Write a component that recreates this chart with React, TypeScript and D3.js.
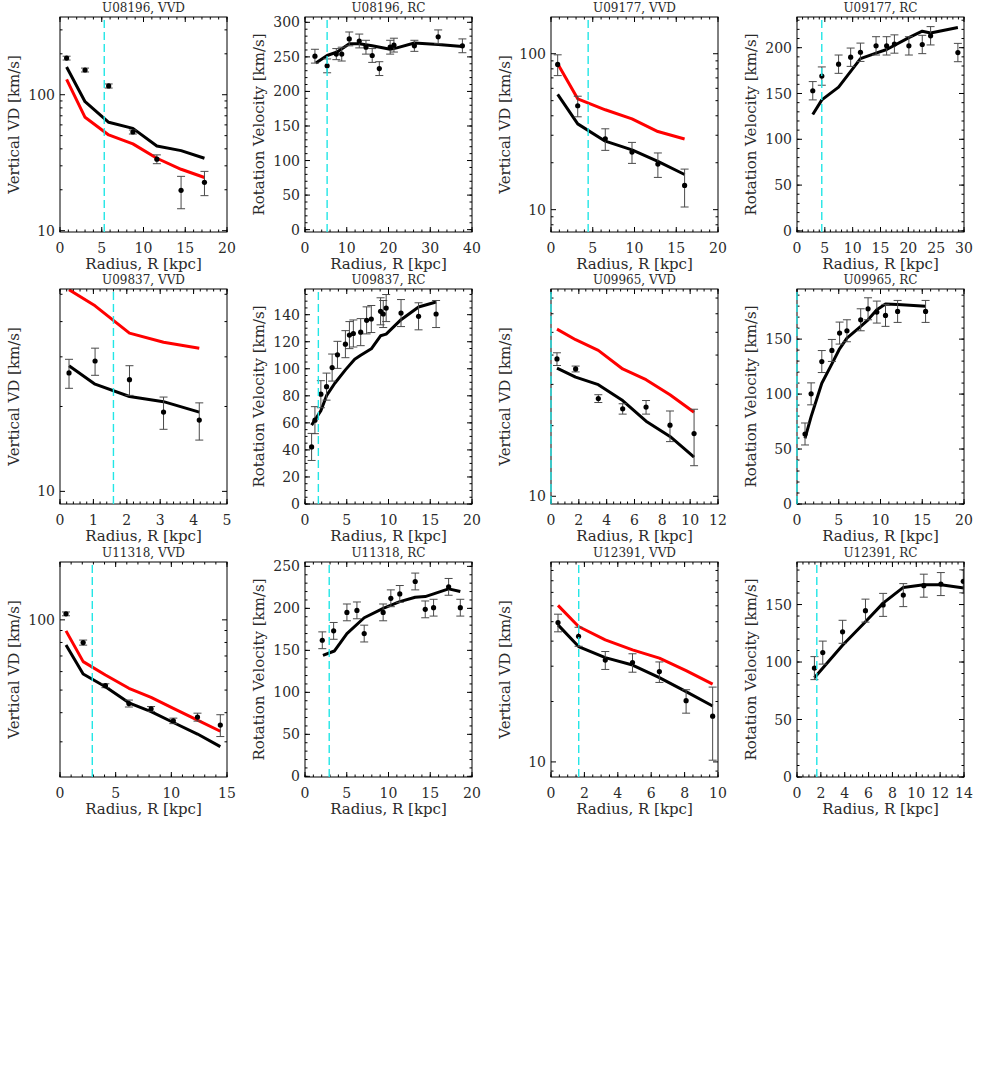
import * as d3 from 'd3'

// panel geometry (box left / top per column and row)
const W = 167
const H = 215
const colX = [60, 305, 551, 797]
const rowY = [17, 289, 562]

// ---------------- U08196 ----------------
const u08196VvdR = [0.79, 3.0, 5.83, 8.73, 11.6, 14.5, 17.3]
const u08196VvdObs = [186, 152, 116, 53.2, 33.6, 19.8, 22.7]
const u08196VvdErr = [6, 5, 4, 1.8, 2.5, 5.3, 4.6]
const u08196VvdBlack = [160, 88.9, 62.7, 56.6, 42.0, 38.8, 34.1]
const u08196VvdRed = [129.5, 68.2, 50.6, 43.5, 34.1, 28.3, 24.6]
const u08196VvdY = [9.78, 373]

const u08196RcR = [2.38, 5.3, 7.5, 8.8, 10.6, 13.0, 14.6, 16.1, 17.8, 20.4, 21.3, 26.2, 31.9, 37.7]
const u08196RcObs = [251, 237, 254, 254, 276, 273, 264, 252, 233, 264, 267, 266, 279, 266]
const u08196RcErr = [10, 10, 8, 10, 10, 10, 10, 10, 10, 10, 10, 8, 10, 10]
const u08196RcModelR = [2.6, 5.3, 7.7, 10.6, 13.0, 16.1, 20.4, 22.0, 26.2, 31.9, 37.7]
const u08196RcModel = [241, 252, 257, 269, 269, 266, 261, 263, 270, 268, 265]
const u08196RcY = [-3.4, 307.7]
const u08196Cut = 5.3

// ---------------- U09177 ----------------
const u09177VvdR = [0.8, 3.2, 6.5, 9.7, 12.8, 16.0]
const u09177VvdObs = [85.4, 46.4, 28.5, 23.4, 19.6, 14.3]
const u09177VvdErr = [13, 7, 4.5, 3.6, 3.5, 3.9]
const u09177VvdBlack = [54.8, 35.5, 27.5, 24.2, 20.4, 16.8]
const u09177VvdRed = [86.3, 51.4, 43.7, 38.2, 31.7, 28.4]
const u09177VvdY = [7.19, 172]

const u09177RcR = [2.83, 4.46, 7.47, 9.64, 11.4, 14.2, 16.1, 17.5, 20.1, 22.5, 24.0, 28.9]
const u09177RcObs = [153, 169, 182, 189.6, 195, 202, 202, 204, 202, 203.5, 213, 194.7]
const u09177RcErr = [10, 10, 10, 10, 10, 10, 10, 10, 10, 10, 10, 10]
const u09177RcModelR = [2.83, 4.46, 7.47, 11.4, 14.2, 16.1, 20.1, 22.5, 24.0, 28.9]
const u09177RcModel = [127, 143, 157, 188, 194, 198, 211, 218, 216, 222]
const u09177RcY = [-1.2, 233.5]
const u09177Cut = 4.45

// ---------------- U09837 ----------------
const u09837VvdR = [0.27, 1.05, 2.08, 3.1, 4.17]
const u09837VvdObs = [26.3, 29.0, 24.9, 19.1, 17.9]
const u09837VvdErr = [3.1, 3.2, 3.0, 2.5, 2.7]
const u09837VvdBlack = [27.9, 24.0, 21.7, 20.8, 19.1]
const u09837VvdRed = [51.9, 45.5, 36.4, 33.8, 32.2]
const u09837VvdY = [9.02, 52.2]

const u09837RcR = [0.79, 1.19, 1.9, 2.58, 3.25, 3.89, 4.84, 5.32, 5.79, 6.67, 7.38, 7.94, 9.05, 9.37, 9.72, 11.5, 13.6, 15.7]
const u09837RcObs = [42.2, 62, 81.2, 86.8, 100.9, 110.3, 118.2, 124.9, 126.1, 127.1, 135.8, 136.8, 142.5, 140.5, 144.9, 141.2, 138.8, 140.5]
const u09837RcErr = [10, 10, 10, 10, 10, 10, 10, 10, 10, 10, 10, 10, 10, 10, 10, 10, 10, 10]
const u09837RcModelR = [0.79, 1.9, 2.58, 3.57, 4.84, 5.95, 6.67, 7.94, 9.05, 9.72, 11.5, 13.6, 15.7]
const u09837RcModel = [58.3, 69.0, 80.1, 89.3, 99.2, 107.1, 110.0, 114.8, 124.4, 125.6, 136.3, 145.7, 149.4]
const u09837RcY = [0, 159]
const u09837Cut = 1.6

// ---------------- U09965 ----------------
const u09965VvdR = [0.43, 1.77, 3.4, 5.15, 6.83, 8.55, 10.28]
const u09965VvdObs = [38.5, 34.9, 26.1, 23.6, 24.0, 20.1, 18.5]
const u09965VvdErr = [2.4, 1, 1, 1.2, 1.6, 3, 5]
const u09965VvdBlack = [35.2, 32.2, 29.9, 25.6, 20.9, 18.0, 14.7]
const u09965VvdRed = [51.6, 46.5, 41.9, 34.9, 31.4, 27.1, 22.8]
const u09965VvdY = [9.27, 76.5]

const u09965RcR = [0.96, 1.69, 2.97, 4.18, 5.1, 5.98, 7.63, 8.51, 9.56, 10.6, 12.05, 15.4]
const u09965RcObs = [63.7, 100.2, 129.6, 139.7, 155.5, 157.6, 167.6, 177.6, 174.6, 171.6, 175.2, 175.2]
const u09965RcErr = [10, 10, 10, 10, 10, 10, 10, 10, 10, 10, 10, 10]
const u09965RcModelR = [0.96, 1.69, 2.97, 4.18, 5.1, 5.98, 7.63, 8.51, 9.56, 10.6, 12.05, 15.4]
const u09965RcModel = [59.7, 79.5, 109.9, 127.5, 141.2, 150.9, 161.6, 167.6, 176.7, 181.9, 181.6, 179.8]
const u09965RcY = [0, 195.6]
const u09965Cut = 0

// ---------------- U11318 ----------------
const u11318VvdR = [0.54, 2.08, 4.08, 6.19, 8.18, 10.18, 12.35, 14.4]
const u11318VvdObs = [106.1, 79.9, 52.2, 43.8, 41.5, 36.9, 38.3, 35.4]
const u11318VvdErr = [2, 2, 1, 1.5, 1, 1, 1.5, 3.8]
const u11318VvdBlack = [78.1, 58.6, 51.7, 44.1, 40.4, 36.3, 32.4, 28.6]
const u11318VvdRed = [89.7, 66.2, 58.0, 50.9, 46.5, 41.7, 37.2, 33.3]
const u11318VvdY = [21.2, 177]

const u11318RcR = [2.07, 3.43, 5.02, 6.22, 7.09, 9.36, 10.28, 11.35, 13.2, 14.4, 15.4, 17.2, 18.6]
const u11318RcObs = [162, 173.2, 195.2, 197.6, 170, 195.2, 212, 217.2, 232, 198.8, 200.8, 225.6, 200.8]
const u11318RcErr = [10, 10, 10, 10, 10, 10, 10, 10, 10, 10, 10, 10, 10]
const u11318RcModelR = [2.15, 3.51, 5.02, 7.09, 9.36, 11.35, 13.2, 14.4, 15.4, 17.2, 18.6]
const u11318RcModel = [144, 149.2, 170, 188.8, 200, 208, 213.2, 214, 217.2, 223.2, 220]
const u11318RcY = [-0.8, 255.2]
const u11318Cut = 2.9

// ---------------- U12391 ----------------
const u12391VvdR = [0.42, 1.65, 3.25, 4.88, 6.49, 8.09, 9.68]
const u12391VvdObs = [49.5, 42.3, 32.2, 31.3, 28.2, 20.2, 16.9]
const u12391VvdErr = [5, 4.6, 3.3, 3.3, 3.3, 2.7, 6.7]
const u12391VvdBlack = [48.2, 37.6, 33.1, 30.4, 26.3, 22.4, 19.0]
const u12391VvdRed = [60.3, 47.3, 40.6, 36.2, 32.9, 28.5, 24.4]
const u12391VvdY = [8.41, 99.2]

const u12391RcR = [1.46, 2.16, 3.82, 5.74, 7.22, 8.91, 10.63, 12.06, 13.94]
const u12391RcObs = [94.7, 108.2, 126.3, 144.7, 149.7, 158.2, 166.4, 167.8, 170.2]
const u12391RcErr = [10, 10, 10, 10, 10, 10, 10, 10, 10]
const u12391RcModelR = [1.46, 3.82, 5.74, 7.22, 8.91, 10.63, 12.06, 14.0]
const u12391RcModel = [86.3, 114.6, 135.1, 151.2, 164.9, 167.3, 167.3, 164.3]
const u12391RcY = [0, 187]
const u12391Cut = 1.66

const RED = '#ff0000'
const BLACK = '#000000'
const TEXT = '#2a2a2a'

const vvd = (title, col, row, xMax, xStep, xMinor, yDom, r, obs, err, black, red, cut) => ({
  title, col, row, xMax, xStep, xMinor, log: true, yDom, yStep: 0, yMinor: 0,
  r, obs, err, cut,
  models: [{ r, v: black, c: BLACK }, { r, v: red, c: RED }],
})

const rc = (title, col, row, xMax, xStep, xMinor, yDom, yStep, yMinor, r, obs, err, mr, mv, cut) => ({
  title, col, row, xMax, xStep, xMinor, log: false, yDom, yStep, yMinor,
  r, obs, err, cut,
  models: [{ r: mr, v: mv, c: BLACK }],
})

const panels = [
  vvd('U08196, VVD', 0, 0, 20, 5, 1, u08196VvdY, u08196VvdR, u08196VvdObs, u08196VvdErr, u08196VvdBlack, u08196VvdRed, u08196Cut),
  rc('U08196, RC', 1, 0, 40, 10, 2, u08196RcY, 50, 10, u08196RcR, u08196RcObs, u08196RcErr, u08196RcModelR, u08196RcModel, u08196Cut),
  vvd('U09177, VVD', 2, 0, 20, 5, 1, u09177VvdY, u09177VvdR, u09177VvdObs, u09177VvdErr, u09177VvdBlack, u09177VvdRed, u09177Cut),
  rc('U09177, RC', 3, 0, 30, 5, 1, u09177RcY, 50, 10, u09177RcR, u09177RcObs, u09177RcErr, u09177RcModelR, u09177RcModel, u09177Cut),
  vvd('U09837, VVD', 0, 1, 5, 1, 0.2, u09837VvdY, u09837VvdR, u09837VvdObs, u09837VvdErr, u09837VvdBlack, u09837VvdRed, u09837Cut),
  rc('U09837, RC', 1, 1, 20, 5, 1, u09837RcY, 20, 5, u09837RcR, u09837RcObs, u09837RcErr, u09837RcModelR, u09837RcModel, u09837Cut),
  vvd('U09965, VVD', 2, 1, 12, 2, 0.5, u09965VvdY, u09965VvdR, u09965VvdObs, u09965VvdErr, u09965VvdBlack, u09965VvdRed, u09965Cut),
  rc('U09965, RC', 3, 1, 20, 5, 1, u09965RcY, 50, 10, u09965RcR, u09965RcObs, u09965RcErr, u09965RcModelR, u09965RcModel, u09965Cut),
  vvd('U11318, VVD', 0, 2, 15, 5, 1, u11318VvdY, u11318VvdR, u11318VvdObs, u11318VvdErr, u11318VvdBlack, u11318VvdRed, u11318Cut),
  rc('U11318, RC', 1, 2, 20, 5, 1, u11318RcY, 50, 10, u11318RcR, u11318RcObs, u11318RcErr, u11318RcModelR, u11318RcModel, u11318Cut),
  vvd('U12391, VVD', 2, 2, 10, 2, 0.5, u12391VvdY, u12391VvdR, u12391VvdObs, u12391VvdErr, u12391VvdBlack, u12391VvdRed, u12391Cut),
  rc('U12391, RC', 3, 2, 14, 2, 0.5, u12391RcY, 50, 10, u12391RcR, u12391RcObs, u12391RcErr, u12391RcModelR, u12391RcModel, u12391Cut),
]

const FONT = '"DejaVu Serif", serif'

function Panel({ p, idx }: { p: any; idx: number }) {
  const x0 = colX[p.col]
  const y0 = rowY[p.row]
  const x = d3.scaleLinear().domain([0, p.xMax]).range([x0, x0 + W])
  const y = p.log
    ? d3.scaleLog().domain(p.yDom).range([y0 + H, y0])
    : d3.scaleLinear().domain(p.yDom).range([y0 + H, y0])

  const xMaj = d3.range(0, p.xMax + 1e-6, p.xStep)
  const xMin = d3.range(0, p.xMax + 1e-6, p.xMinor)

  let yMaj: number[] = []
  let yMin: number[] = []
  if (p.log) {
    for (let e = 0; e < 4; e++) {
      for (let k = 1; k < 10; k++) {
        const val = k * Math.pow(10, e)
        if (val >= p.yDom[0] && val <= p.yDom[1]) (k === 1 ? yMaj : yMin).push(val)
      }
    }
  } else {
    yMaj = d3.range(0, p.yDom[1] + 1e-6, p.yStep)
    yMin = d3.range(0, p.yDom[1] + 1e-6, p.yMinor)
  }

  const line = d3.line<[number, number]>()
    .x(d => x(d[0]))
    .y(d => y(d[1]))

  const clipId = `clip-${idx}`
  const yLabel = p.log ? 'Vertical VD [km/s]' : 'Rotation Velocity [km/s]'

  return (
    <g fontFamily={FONT} fill={TEXT}>
      <defs>
        <clipPath id={clipId}>
          <rect x={x0} y={y0} width={W} height={H} />
        </clipPath>
      </defs>

      {/* ticks on all four sides */}
      <g stroke="#000" strokeWidth={1}>
        {xMin.map((t, i) => (
          <g key={'xm' + i}>
            <line x1={x(t)} x2={x(t)} y1={y0 + H} y2={y0 + H - 2.5} />
            <line x1={x(t)} x2={x(t)} y1={y0} y2={y0 + 2.5} />
          </g>
        ))}
        {xMaj.map((t, i) => (
          <g key={'xM' + i}>
            <line x1={x(t)} x2={x(t)} y1={y0 + H} y2={y0 + H - 5} />
            <line x1={x(t)} x2={x(t)} y1={y0} y2={y0 + 5} />
          </g>
        ))}
        {yMin.map((t, i) => (
          <g key={'ym' + i}>
            <line x1={x0} x2={x0 + 2.5} y1={y(t)} y2={y(t)} />
            <line x1={x0 + W} x2={x0 + W - 2.5} y1={y(t)} y2={y(t)} />
          </g>
        ))}
        {yMaj.map((t, i) => (
          <g key={'yM' + i}>
            <line x1={x0} x2={x0 + 5} y1={y(t)} y2={y(t)} />
            <line x1={x0 + W} x2={x0 + W - 5} y1={y(t)} y2={y(t)} />
          </g>
        ))}
      </g>

      <g clipPath={`url(#${clipId})`}>
        {p.models.map((m, i) => (
          <path key={'m' + i} d={line(m.r.map((r, j) => [r, m.v[j]]))}
            fill="none" stroke={m.c} strokeWidth={3} strokeLinejoin="round" />
        ))}

        <g stroke="#4a4a4a" strokeWidth={1}>
          {p.r.map((r, i) => {
            const cx = x(r)
            const hi = y(p.obs[i] + p.err[i])
            const lo = y(p.obs[i] - p.err[i])
            return (
              <g key={'e' + i}>
                <line x1={cx} x2={cx} y1={hi} y2={lo} />
                <line x1={cx - 4} x2={cx + 4} y1={hi} y2={hi} />
                <line x1={cx - 4} x2={cx + 4} y1={lo} y2={lo} />
              </g>
            )
          })}
        </g>
        {p.r.map((r, i) => (
          <circle key={'p' + i} cx={x(r)} cy={y(p.obs[i])} r={2.6} fill="#000" />
        ))}
      </g>

      <rect x={x0} y={y0} width={W} height={H} fill="none" stroke="#000" strokeWidth={1} />

      {/* cut radius, drawn over the frame so it shows on the axis too */}
      <line x1={x(p.cut)} x2={x(p.cut)} y1={y0 + H} y2={y0}
        stroke="#22e6e6" strokeWidth={1.4} strokeDasharray="8,4" />

      <text x={x0 + W / 2} y={y0 - 5} textAnchor="middle" fontSize={12}>{p.title}</text>

      {xMaj.map((t, i) => (
        <text key={'xl' + i} x={x(t)} y={y0 + H + 21} textAnchor="middle" fontSize={14}>{d3.format('d')(t)}</text>
      ))}
      {yMaj.map((t, i) => (
        <text key={'yl' + i} x={x0 - 5} y={y(t)} dy="0.36em" textAnchor="end" fontSize={14}>{d3.format('d')(t)}</text>
      ))}

      <text x={x0 + W / 2} y={y0 + H + 37} textAnchor="middle" fontSize={15}>Radius, R [kpc]</text>
      <text transform={`translate(${x0 - 41},${y0 + H / 2}) rotate(-90)`} textAnchor="middle" fontSize={15}>{yLabel}</text>
    </g>
  )
}

export default function App() {
  return (
    <div style={{ position: 'absolute', left: 0, top: 0 }}>
      <svg width={981} height={1088} style={{ display: 'block', background: '#fff' }}>
        <rect width={981} height={1088} fill="#fff" />
        {panels.map((p, i) => <Panel key={i} p={p} idx={i} />)}
      </svg>
    </div>
  )
}
